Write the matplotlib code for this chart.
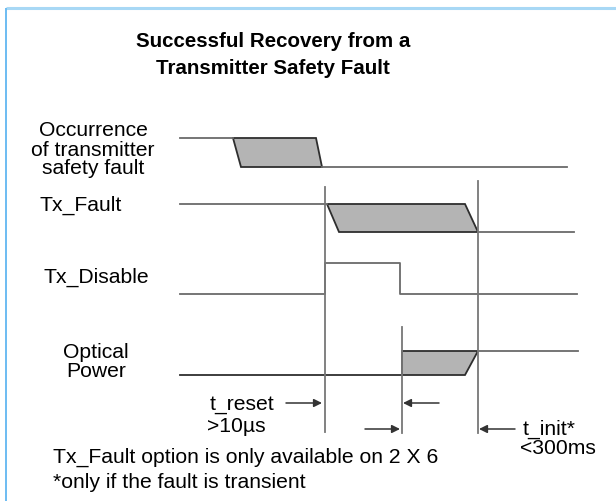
import matplotlib
matplotlib.use("Agg")
import matplotlib.pyplot as plt
from matplotlib.patches import Polygon

plt.rcParams['font.family'] = ['Liberation Sans', 'DejaVu Sans']

# --- data (diagram units, roughly pixels, y grows downward) ---
title = "Successful Recovery from a\nTransmitter Safety Fault"
signal_names = ["Occurrence\nof transmitter\nsafety fault", "Tx_Fault", "Tx_Disable", "Optical\nPower"]
name_pos = [(93, 150), (39, 205), (43, 277), (96, 362)]
name_align = ["center", "left", "left", "center"]

high_level = [138, 204, 263, 351]
low_level = [167, 232, 294, 375]
t_start = 180

# occurrence: high until fault, shaded transition, low till end
occ_edge = [233, 316, 241, 322]      # top-left, top-right, bottom-left, bottom-right
occ_end = 567
# tx_fault: high, shaded transition, low
fault_edge = [327, 465, 339, 478]
fault_end = 574
# tx_disable pulse
disable_rise, disable_fall, disable_end = 325, 400, 577
# optical power: off, shaded ramp, on
optical_edge = [402, 478, 402, 465]
optical_end = 578

# timing marker lines: x, top, bottom
marker_x = [325, 478, 402]
marker_top = [187, 181, 327]
marker_bot = [432, 433, 433]

# arrows: (tail x, head x, y)
arrows = [(286, 322, 403), (439, 403, 403), (365, 400, 429), (515, 479, 429)]

fig = plt.figure(figsize=(6.16, 5.01), dpi=100)
ax = fig.add_axes([0, 0, 1, 1])
ax.set_xlim(0, 616)
ax.set_ylim(501, 0)
ax.axis('off')

# frame
ax.plot([6, 616], [7.5, 7.5], color='#a8d8f5', lw=2.2, solid_capstyle='butt')
ax.plot([6, 6], [7.5, 501], color='#6cbcf2', lw=1.4, solid_capstyle='butt')

ax.text(273, 55, title, ha='center', va='center', fontsize=14.8,
        fontweight='bold', linespacing=1.5)

fs = 15.2
for name, (x, y), a in zip(signal_names, name_pos, name_align):
    ax.text(x, y, name, ha=a, va='center', fontsize=fs, linespacing=1.0)

wave = '#6a6a6a'
edge = '#2e2e2e'
shade = '#b4b4b4'

def shaded(ax, top_l, top_r, bot_l, bot_r, hi, lo):
    ax.add_patch(Polygon([(top_l, hi), (top_r, hi), (bot_r, lo), (bot_l, lo)],
                         closed=True, facecolor=shade, edgecolor=edge, lw=1.3))

# occurrence
h, l = high_level[0], low_level[0]
ax.plot([t_start, occ_edge[0]], [h, h], color=wave, lw=1.3)
shaded(ax, occ_edge[0], occ_edge[1], occ_edge[2], occ_edge[3], h, l)
ax.plot([occ_edge[3], occ_end], [l, l], color=wave, lw=1.3)

# tx_fault
h, l = high_level[1], low_level[1]
ax.plot([t_start, fault_edge[0]], [h, h], color=wave, lw=1.3)
shaded(ax, fault_edge[0], fault_edge[1], fault_edge[2], fault_edge[3], h, l)
ax.plot([fault_edge[3], fault_end], [l, l], color=wave, lw=1.3)

# tx_disable
h, l = high_level[2], low_level[2]
ax.plot([t_start, disable_rise, disable_rise, disable_fall, disable_fall, disable_end],
        [l, l, h, h, l, l], color=wave, lw=1.3)

# optical power
h, l = high_level[3], low_level[3]
ax.plot([t_start, optical_edge[2]], [l, l], color=edge, lw=1.3)
shaded(ax, optical_edge[0], optical_edge[1], optical_edge[2], optical_edge[3], h, l)
ax.plot([optical_edge[1], optical_end], [h, h], color=wave, lw=1.3)

# markers
for x, t, b in zip(marker_x, marker_top, marker_bot):
    ax.plot([x, x], [t, b], color='#777777', lw=1.3)

for tail, head, y in arrows:
    ax.annotate('', xy=(head, y), xytext=(tail, y),
                arrowprops=dict(arrowstyle='-|>', color='#333333', lw=1.1,
                                mutation_scale=12, shrinkA=0, shrinkB=0))

ax.text(210, 404, "t_reset", ha='left', va='center', fontsize=fs)
ax.text(207, 426, ">10\u00b5s", ha='left', va='center', fontsize=fs)
ax.text(523, 429, "t_init*", ha='left', va='center', fontsize=fs)
ax.text(520, 449, "<300ms", ha='left', va='center', fontsize=fs)
ax.text(53, 457, "Tx_Fault option is only available on 2 X 6", ha='left', va='center', fontsize=fs)
ax.text(53, 482, "*only if the fault is transient", ha='left', va='center', fontsize=fs)

fig.savefig('out.png', dpi=100)
